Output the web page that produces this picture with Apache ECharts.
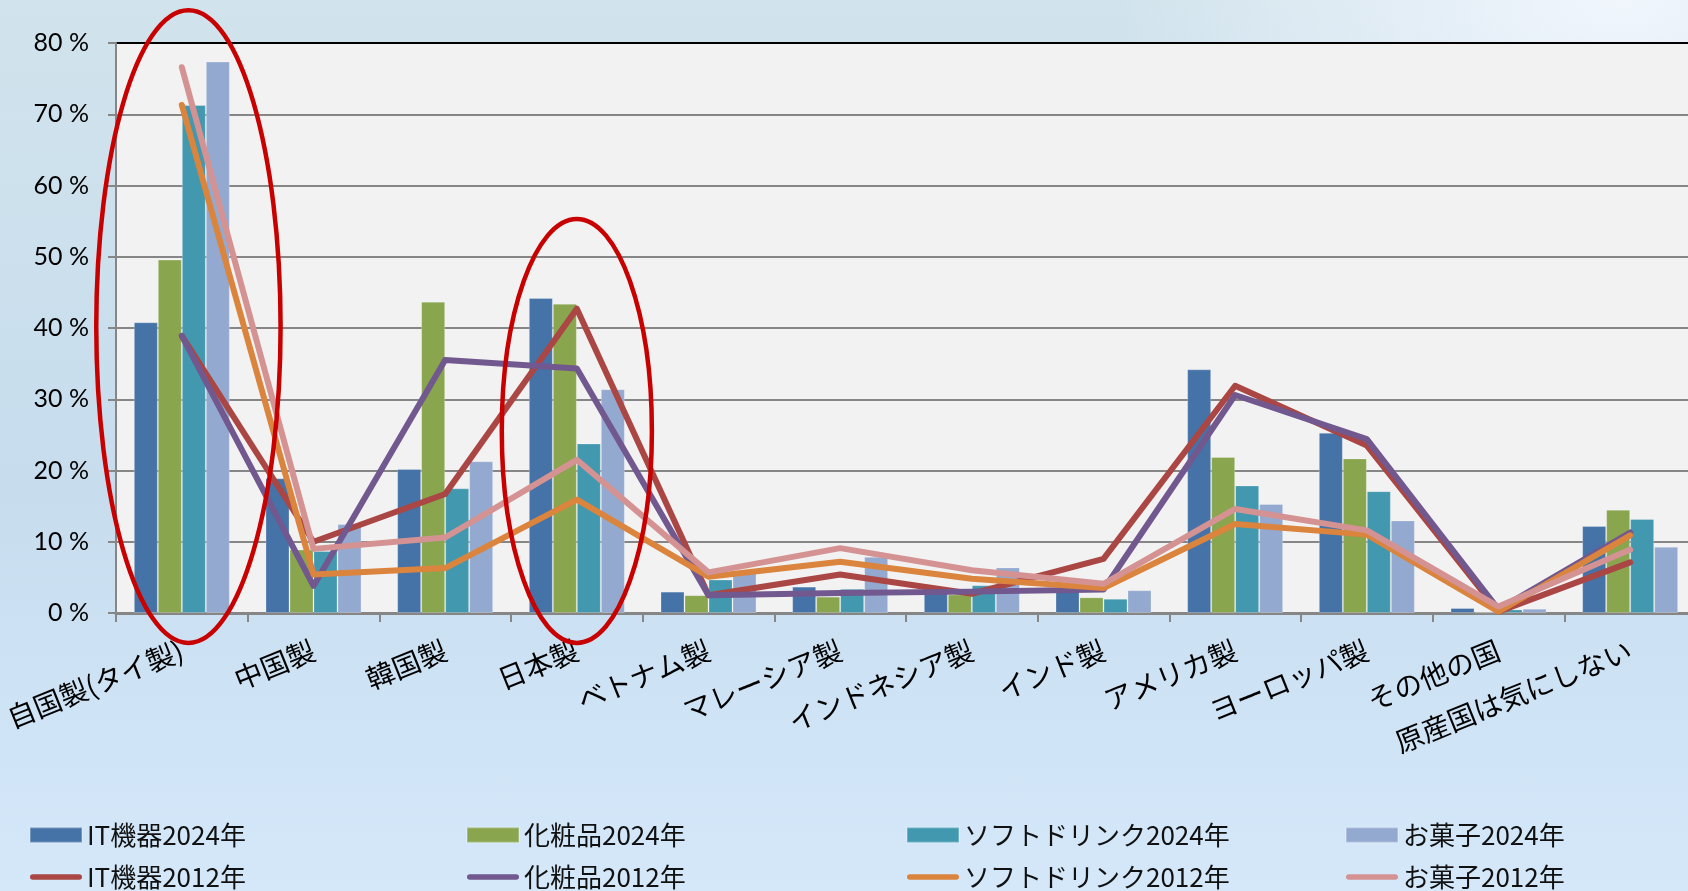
<!DOCTYPE html>
<html>
<head>
<meta charset="utf-8">
<script src="https://cdn.jsdelivr.net/npm/echarts@6.0.0/dist/echarts.min.js"></script>
<style>
    html, body { margin: 0; padding: 0; }
    #chartDiv {
        width: 1688px; height: 891px;
        background:
            radial-gradient(ellipse at 96% 0%, #f1f6fd 0%, rgba(241,246,253,0) 22%),
            linear-gradient(180deg, #d1e3ec 0%, #c7ddee 55%, #d4e8fa 100%);
    }
</style>
</head>
<body>
<div id="chartDiv"></div>
<script>
    // カテゴリ(原産国)
    var categories = ['自国製(タイ製)', '中国製', '韓国製', '日本製', 'ベトナム製', 'マレーシア製',
        'インドネシア製', 'インド製', 'アメリカ製', 'ヨーロッパ製', 'その他の国', '原産国は気にしない'];

    // 2024年 (棒)
    var it2024    = [40.8, 18.9, 20.2, 44.2, 3.0, 3.7, 3.3, 3.3, 34.2, 25.3, 0.7, 12.2];
    var cos2024   = [49.6,  8.9, 43.7, 43.4, 2.5, 2.3, 2.6, 2.2, 21.9, 21.7, 0.1, 14.5];
    var soft2024  = [71.3,  8.7, 17.5, 23.8, 4.7, 3.4, 3.9, 2.0, 17.9, 17.1, 0.5, 13.2];
    var snack2024 = [77.4, 12.5, 21.3, 31.4, 5.8, 7.9, 6.4, 3.2, 15.3, 13.0, 0.6,  9.3];

    // 2012年 (折れ線)
    var it2012    = [38.9, 10.0, 16.7, 42.7, 2.5, 5.4, 2.7, 7.6, 31.9, 23.5, 0.2,  7.1];
    var cos2012   = [38.9,  3.8, 35.5, 34.3, 2.5, 2.8, 3.0, 3.3, 30.6, 24.4, 0.5, 11.3];
    var soft2012  = [71.3,  5.4,  6.3, 15.9, 5.1, 7.2, 4.8, 3.5, 12.5, 11.0, 0.2, 10.9];
    var snack2012 = [76.6,  9.0, 10.6, 21.5, 5.7, 9.1, 6.0, 4.1, 14.6, 11.6, 0.9,  8.9];

    var yTicks = [0, 10, 20, 30, 40, 50, 60, 70, 80];

    var barNames  = ['IT機器2024年', '化粧品2024年', 'ソフトドリンク2024年', 'お菓子2024年'];
    var lineNames = ['IT機器2012年', '化粧品2012年', 'ソフトドリンク2012年', 'お菓子2012年'];

    var barColors  = ['#4572a7', '#89a54e', '#4198af', '#93a9cf'];
    var lineColors = ['#aa4643', '#71588f', '#db843d', '#d49392'];

    var barData  = [it2024, cos2024, soft2024, snack2024];
    var lineData = [it2012, cos2012, soft2012, snack2012];

    var jpFont = '"Noto Sans CJK JP", sans-serif';

    var series = [];
    barData.forEach(function (d, i) {
        series.push({
            name: barNames[i], type: 'bar', data: d,
            barWidth: 24, barGap: '0%',
            itemStyle: { color: barColors[i], borderColor: 'rgba(255,255,255,0.25)', borderWidth: 1 }
        });
    });
    lineData.forEach(function (d, i) {
        series.push({
            name: lineNames[i], type: 'line', data: d,
            symbol: 'none', showSymbol: false,
            lineStyle: { color: lineColors[i], width: 6, join: 'round', cap: 'round' },
            itemStyle: { color: lineColors[i] }
        });
    });

    var splitColors = yTicks.map(function (t, i) { return i === yTicks.length - 1 ? '#000' : '#868686'; });

    // 凡例: 4列 x 2行
    var lineIcon = 'path://M3 0H53A3 3 0 0 1 53 6H3A3 3 0 0 1 3 0Z';
    var legendLeft = [29, 466, 906, 1345];
    var legends = legendLeft.map(function (x, i) {
        return {
            orient: 'vertical', left: x, top: 820, height: 100, padding: 0,
            itemWidth: 52, itemHeight: 15, itemGap: 12,
            selectedMode: false,
            data: [{ name: barNames[i], icon: 'rect' }, { name: lineNames[i], icon: lineIcon }],
            textStyle: { fontFamily: jpFont, fontSize: 26, color: '#111', lineHeight: 30 }
        };
    });

    var chart = echarts.init(document.getElementById('chartDiv'));
    chart.setOption({
        animation: false,
        backgroundColor: 'transparent',
        grid: {
            left: 116, top: 43, width: 1580, bottom: 278,
            show: true, backgroundColor: '#f2f2f2', borderWidth: 0,
            containLabel: false, outerBoundsMode: 'none'
        },
        legend: legends,
        xAxis: {
            type: 'category', data: categories,
            axisLine: { lineStyle: { color: '#868686', width: 3 } },
            axisTick: { show: true, length: 9, lineStyle: { color: '#868686', width: 2 } },
            axisLabel: { interval: 0, rotate: 22, margin: 36, fontFamily: jpFont, fontSize: 28, color: '#000' }
        },
        yAxis: {
            type: 'value', min: 0, max: 80, interval: 10,
            axisLine: { show: true, lineStyle: { color: '#868686', width: 2 } },
            axisTick: { show: true, length: 8, lineStyle: { color: '#868686', width: 2 } },
            axisLabel: { formatter: '{value} %', margin: 27, fontFamily: 'Lato, sans-serif', fontSize: 25, color: '#000' },
            splitLine: { lineStyle: { color: splitColors, width: 2 } }
        },
        series: series
    });

    // 赤い楕円の強調 (自国製・日本製)
    function ellipseAround(cat, shift, halfW, vTop, vBottom) {
        var c = chart.convertToPixel({ gridIndex: 0 }, [cat, 0]);
        var c1 = chart.convertToPixel({ gridIndex: 0 }, [cat + 1, 0]);
        var w = c1[0] - c[0];
        var yt = chart.convertToPixel({ gridIndex: 0 }, [cat, vTop])[1];
        var yb = chart.convertToPixel({ gridIndex: 0 }, [cat, vBottom])[1];
        return {
            type: 'ellipse', z: 100, silent: true,
            shape: { cx: c[0] + shift * w, cy: (yt + yb) / 2, rx: halfW * w, ry: (yb - yt) / 2 },
            style: { fill: 'none', stroke: '#c80000', lineWidth: 4.5 }
        };
    }
    chart.setOption({
        graphic: [
            ellipseAround(0, 0.05, 0.70, 84.6, -4.2),
            ellipseAround(3, 0, 0.57, 55.3, -4.2)
        ]
    });
</script>
</body>
</html>
